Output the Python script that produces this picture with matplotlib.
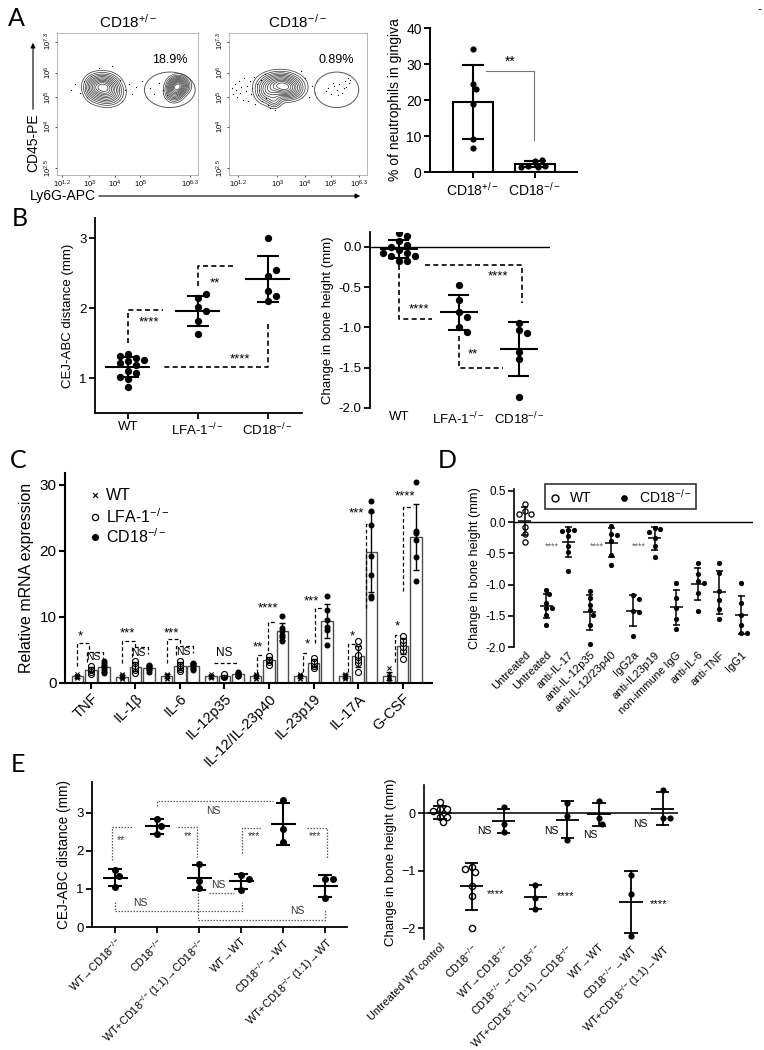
import numpy as np
import matplotlib
matplotlib.use("Agg")
import matplotlib.pyplot as plt
from matplotlib.patches import Ellipse, FancyArrowPatch
from matplotlib.lines import Line2D

plt.rcParams['font.family'] = ['Liberation Sans', 'DejaVu Sans']
plt.rcParams['mathtext.fontset'] = 'custom'
plt.rcParams['mathtext.rm'] = 'Liberation Sans'
plt.rcParams['mathtext.it'] = 'Liberation Sans:italic'
plt.rcParams['mathtext.default'] = 'regular'

KO = "$^{-/-}$"

# ---------------- data ----------------
# A: flow plots (populations drawn as density contours, axis-fraction units)
flow_titles = ["CD18$^{+/-}$", "CD18$^{-\\,/-}$"]
flow_pct = ["18.9%", "0.89%"]
flow_xlabels = ["$10^{1.2}$", "$10^3$", "$10^4$", "$10^5$", "$10^{6.3}$"]
flow_ylabels = ["$10^{2.5}$", "$10^4$", "$10^5$", "$10^6$", "$10^{7.3}$"]
het_pops = [
    [(0.33, 0.63, 0.06, 0.045, 1.0), (0.36, 0.57, 0.06, 0.045, 0.6), (0.26, 0.61, 0.04, 0.05, 0.35)],
    [(0.86, 0.63, 0.04, 0.035, 1.0), (0.83, 0.58, 0.035, 0.035, 0.5)],
]
ko_pops = [
    [(0.37, 0.64, 0.08, 0.045, 1.0), (0.43, 0.60, 0.06, 0.04, 0.6), (0.28, 0.58, 0.05, 0.045, 0.45),
     (0.33, 0.52, 0.03, 0.03, 0.25)],
]
het_ev_x = [0.10, 0.13, 0.16, 0.19, 0.21, 0.45, 0.48, 0.51, 0.53, 0.56, 0.60, 0.66, 0.69, 0.72, 0.30, 0.39,
            0.24, 0.46, 0.75, 0.78]
het_ev_y = [0.60, 0.64, 0.58, 0.66, 0.55, 0.67, 0.60, 0.64, 0.57, 0.62, 0.66, 0.61, 0.57, 0.65, 0.75, 0.77,
            0.70, 0.52, 0.60, 0.56]
ko_ev_x = [0.02, 0.03, 0.04, 0.05, 0.06, 0.07, 0.08, 0.09, 0.10, 0.11, 0.12, 0.13, 0.14, 0.15, 0.16, 0.17,
           0.18, 0.19, 0.20, 0.21, 0.22, 0.23, 0.24, 0.25, 0.26, 0.27, 0.28, 0.30, 0.33, 0.52, 0.55, 0.58,
           0.60, 0.62, 0.64, 0.70, 0.72, 0.74, 0.76, 0.78, 0.80, 0.82, 0.84, 0.85, 0.86, 0.87, 0.88, 0.83,
           0.79, 0.75]
ko_ev_y = [0.61, 0.57, 0.64, 0.60, 0.55, 0.66, 0.58, 0.62, 0.53, 0.68, 0.59, 0.63, 0.52, 0.66, 0.57, 0.61,
           0.69, 0.50, 0.64, 0.56, 0.60, 0.67, 0.52, 0.58, 0.71, 0.54, 0.49, 0.47, 0.46, 0.73, 0.68, 0.55,
           0.63, 0.58, 0.66, 0.59, 0.61, 0.57, 0.63, 0.60, 0.64, 0.58, 0.66, 0.62, 0.68, 0.65, 0.67, 0.61,
           0.56, 0.65]

# A: neutrophils in gingiva (%)
a_groups = ["CD18$^{+/-}$", "CD18$^{-/-}$"]
a_vals = [[34.2, 24.5, 23.0, 19.0, 9.2, 6.8],
          [3.0, 1.5, 1.7, 3.3, 1.6, 1.5]]

# B
b_groups = ["WT", "LFA-1" + KO, "CD18" + KO]
b_cej = [[1.34, 1.29, 1.32, 1.26, 1.24, 1.21, 1.19, 1.10, 1.07, 0.98, 1.02, 0.87],
         [2.14, 2.20, 2.02, 1.96, 1.81, 1.63],
         [3.00, 2.46, 2.54, 2.24, 2.18, 2.10]]
b_bone = [[0.17, 0.14, 0.07, 0.03, -0.04, -0.07, -0.11, -0.11, -0.07, -0.17, -0.18, 0.0],
          [-0.47, -0.66, -0.81, -0.87, -1.00, -1.05],
          [-0.94, -1.03, -1.07, -1.30, -1.39, -1.86]]

# C: relative mRNA expression
c_genes = ["TNF", "IL-1β", "IL-6", "IL-12p35", "IL-12/IL-23p40", "IL-23p19", "IL-17A", "G-CSF"]
c_wt = [[0.7, 0.9, 1.0, 1.0, 1.1, 1.3], [0.6, 0.8, 0.9, 1.0, 1.2, 1.3], [0.6, 0.8, 1.0, 1.1, 1.2, 1.4],
        [0.7, 0.9, 1.0, 1.0, 1.1, 1.3], [0.6, 0.8, 1.0, 1.1, 1.2, 1.3], [0.6, 0.8, 1.0, 1.0, 1.2, 1.4],
        [0.6, 0.8, 0.9, 1.1, 1.2, 1.4], [0.5, 0.7, 0.9, 1.0, 1.3, 2.2]]
c_lfa = [[1.4, 1.7, 2.0, 2.1, 2.3, 2.5], [1.5, 1.9, 2.3, 2.6, 3.0, 3.3], [1.8, 2.1, 2.5, 2.8, 3.1, 3.4],
         [0.9, 1.0, 1.1, 1.2, 1.2, 1.3], [2.8, 3.2, 3.5, 3.7, 3.9, 4.1], [2.2, 2.6, 2.9, 3.1, 3.4, 3.8],
         [1.7, 3.0, 3.5, 4.0, 4.2, 5.4, 6.3], [3.7, 4.9, 5.5, 6.1, 6.5, 7.1]]
c_cd18 = [[1.5, 1.9, 2.2, 2.5, 2.8, 3.3], [1.7, 2.1, 2.3, 2.4, 2.6, 2.7], [2.0, 2.3, 2.5, 2.7, 2.9, 3.1],
          [1.0, 1.1, 1.2, 1.3, 1.5, 1.7], [6.4, 6.9, 7.2, 7.8, 8.3, 10.2], [5.8, 8.0, 8.5, 9.6, 11.1, 13.1],
          [12.9, 13.1, 16.4, 19.2, 24.0, 26.0, 27.5], [15.5, 19.1, 21.7, 22.7, 23.0, 30.5]]

# D: change in bone height (mm)
d_groups = ["Untreated", "Untreated", "anti-IL-17", "anti-IL-12p35", "anti-IL-12/23p40", "IgG2a",
            "anti-IL23p19", "non-immune IgG", "anti-IL-6", "anti-TNF", "IgG1"]
d_vals = [[0.29, 0.17, 0.13, 0.13, -0.08, -0.19, -0.32],
          [-1.08, -1.15, -1.29, -1.37, -1.37, -1.49, -1.64],
          [-0.13, -0.13, -0.15, -0.22, -0.38, -0.48, -0.78],
          [-1.11, -1.21, -1.32, -1.41, -1.48, -1.64, -1.95],
          [-0.07, -0.19, -0.21, -0.30, -0.53, -0.69],
          [-1.17, -1.23, -1.42, -1.44, -1.82],
          [-0.10, -0.11, -0.16, -0.26, -0.38, -0.56],
          [-0.98, -1.22, -1.37, -1.55, -1.71],
          [-0.66, -0.83, -0.94, -0.97, -1.13, -1.42],
          [-0.66, -0.81, -1.10, -1.24, -1.39, -1.55],
          [-0.98, -1.29, -1.49, -1.64, -1.77, -1.77]]
d_wt_groups = [0]

# E
e_left_groups = ["WT→CD18" + KO, "CD18" + KO, "WT+CD18" + KO + "(1:1)→CD18" + KO, "WT→WT",
                 "CD18" + KO + "→WT", "WT+CD18" + KO + "(1:1)→WT"]
e_cej = [[1.49, 1.33, 1.05], [2.82, 2.65, 2.44], [1.65, 1.21, 1.01],
         [1.36, 1.27, 0.98], [3.32, 2.56, 2.24], [1.25, 1.25, 0.75]]
e_right_groups = ["Untreated WT control", "CD18" + KO, "WT→CD18" + KO, "CD18" + KO + "→CD18" + KO,
                  "WT+CD18" + KO + "(1:1)→CD18" + KO, "WT→WT", "CD18" + KO + "→WT",
                  "WT+CD18" + KO + "(1:1)→WT"]
e_bone = [[0.19, 0.07, 0.07, 0.04, -0.07, -0.07, -0.16],
          [-0.93, -1.03, -0.97, -1.26, -1.44, -2.00],
          [0.10, -0.19, -0.32], [-1.25, -1.47, -1.66], [0.17, -0.05, -0.46],
          [0.21, -0.09, -0.19], [-1.08, -1.41, -2.13], [0.41, -0.09, -0.09]]
e_open_groups = [0, 1]

# ---------------- figure ----------------
W, H = 764, 1050
fig = plt.figure(figsize=(W / 100, H / 100), dpi=100)


def px_ax(x0, y0, x1, y1):
    return fig.add_axes([x0 / W, 1 - y1 / H, (x1 - x0) / W, (y1 - y0) / H])


def fx(x):
    return x / W


def fy(y):
    return 1 - y / H


def style(ax, lw=1.3, fs=9.5, bottom=True):
    ax.spines['top'].set_visible(False)
    ax.spines['right'].set_visible(False)
    ax.spines['left'].set_linewidth(lw)
    ax.spines['bottom'].set_linewidth(lw)
    ax.tick_params(labelsize=fs, width=lw, length=4, pad=2)
    if not bottom:
        ax.spines['bottom'].set_visible(False)
        ax.tick_params(axis='x', length=0)


def swarm(ax, x0, vals, diam, maxw=None):
    """x positions so that dots of diameter diam (px) do not overlap"""
    vals = np.asarray(vals, float)
    pts = ax.transData.transform(np.column_stack([np.full(len(vals), x0), vals]))
    placed, out = [], []
    step = diam * 0.55
    for px, py in pts:
        best = None
        for k in range(0, 14):
            for s in ([0] if k == 0 else [1, -1]):
                cx = px + s * k * step
                if maxw is not None and abs(cx - px) > maxw:
                    continue
                if all((cx - qx) ** 2 + (py - qy) ** 2 >= (diam * 0.95) ** 2 for qx, qy in placed):
                    best = cx
                    break
            if best is not None:
                break
        if best is None:
            best = px
        placed.append((best, py))
        out.append(best)
    return ax.transData.inverted().transform(np.column_stack([out, pts[:, 1]]))[:, 0]


def dots(ax, x0, vals, diam, open_=False, maxw=None, marker='o', lw=0.9, z=5):
    xs = swarm(ax, x0, vals, diam, maxw)
    s = (diam * 0.72) ** 2
    if marker == 'x':
        ax.scatter(xs, vals, s=s * 0.7, marker='x', color='k', linewidths=0.7, zorder=z)
    elif open_:
        ax.scatter(xs, vals, s=s, facecolor='white', edgecolor='k', linewidths=lw, zorder=z)
    else:
        ax.scatter(xs, vals, s=s, color='k', linewidths=0, zorder=z)


def mean_sd(ax, x, vals, mw, cw, lw=1.5):
    m, sd = np.mean(vals), np.std(vals, ddof=1)
    ax.plot([x - mw / 2, x + mw / 2], [m, m], color='k', lw=lw, zorder=6, solid_capstyle='butt')
    ax.plot([x, x], [m - sd, m + sd], color='k', lw=lw, zorder=6)
    for yy in (m - sd, m + sd):
        ax.plot([x - cw / 2, x + cw / 2], [yy, yy], color='k', lw=lw, zorder=6, solid_capstyle='butt')


def bracket(ax, pts, txt=None, tpos=None, ls=(0, (3, 2)), lw=1.0, color='k', fs=9.5, tcolor='k'):
    xs, ys = zip(*pts)
    ax.plot(xs, ys, color=color, lw=lw, linestyle=ls, zorder=3)
    if txt:
        ax.text(tpos[0], tpos[1], txt, ha='center', va='center', fontsize=fs, color=tcolor, zorder=7)


def letter(x, y, s):
    fig.text(fx(x), fy(y), s, fontsize=18, family=['Lato', 'DejaVu Sans'], ha='center', va='center')


# ---------- A: flow plots ----------
flow_levels = np.array([0.05, 0.1, 0.16, 0.23, 0.31, 0.4, 0.5, 0.6, 0.7, 0.8, 0.9])
gx, gy = np.meshgrid(np.linspace(0, 1, 300), np.linspace(0, 1, 300))
flow_specs = [
    (px_ax(57, 33, 198, 175), het_pops, het_ev_x, het_ev_y, (0.80, 0.60, 0.36, 0.25),
     [0.035, 0.23, 0.41, 0.59, 0.94]),
    (px_ax(229, 33, 367, 175), ko_pops, ko_ev_x, ko_ev_y, (0.78, 0.60, 0.32, 0.25),
     [0.065, 0.35, 0.55, 0.74, 0.94]),
]
for k, (ax, pops, ex, ey, gate, xtk) in enumerate(flow_specs):
    for pop in pops:
        Z = np.zeros_like(gx)
        for cx, cy, sx, sy, w in pop:
            Z += w * np.exp(-0.5 * (((gx - cx) / sx) ** 2 + ((gy - cy) / sy) ** 2))
        ax.contour(gx, gy, Z, levels=Z.max() * flow_levels, colors='0.2', linewidths=0.5)
    n = min(len(ex), len(ey))
    ax.scatter(ex[:n], ey[:n], s=0.8, color='k', linewidths=0)
    ax.add_patch(Ellipse(gate[:2], gate[2], gate[3], fill=False, ec='0.35', lw=0.7))
    ax.text(gate[0], 0.81, flow_pct[k], ha='center', va='center', fontsize=9)
    ax.set_xlim(0, 1)
    ax.set_ylim(0, 1)
    ax.set_xticks(xtk)
    ax.set_xticklabels(flow_xlabels, fontsize=5.5)
    ax.set_yticks([0.05, 0.34, 0.55, 0.72, 0.94])
    ax.set_yticklabels(flow_ylabels, fontsize=5.5, rotation=90, va='center')
    ax.tick_params(length=1.5, width=0.5, pad=1)
    for s in ax.spines.values():
        s.set_linewidth(0.5)
        s.set_color('0.6')
    ax.set_title(flow_titles[k], fontsize=11, pad=4)

fig.text(fx(33), fy(143), "CD45-PE", rotation=90, ha='center', va='center', fontsize=10)
fig.text(fx(30), fy(196), "Ly6G-APC", ha='left', va='center', fontsize=10)
fig.add_artist(FancyArrowPatch((fx(33), fy(112)), (fx(33), fy(40)), transform=fig.transFigure,
                               arrowstyle='-|>', mutation_scale=7, lw=0.8, color='k'))
fig.add_artist(FancyArrowPatch((fx(96), fy(196)), (fx(363), fy(196)), transform=fig.transFigure,
                               arrowstyle='-|>', mutation_scale=7, lw=0.8, color='k'))

# ---------- A: bar ----------
ax = px_ax(430, 28, 577, 172)
style(ax, lw=1.4, fs=10)
ax.set_xlim(-0.69, 1.68)
ax.set_ylim(0, 40)
means = [np.mean(v) for v in a_vals]
ax.bar(range(2), means, width=0.65, color='white', edgecolor='k', lw=1.5, zorder=2)
for i, v in enumerate(a_vals):
    sd = np.std(v, ddof=1)
    ax.plot([i, i], [means[i] - sd, means[i] + sd], color='k', lw=1.5, zorder=4)
    for yy in (means[i] - sd, means[i] + sd):
        ax.plot([i - 0.16, i + 0.16], [yy, yy], color='k', lw=1.5, zorder=4)
    dots(ax, i, v, 6.2)
ax.plot([0.21, 0.98, 0.98], [28, 28, 9], color='0.45', lw=0.8)
ax.text(0.6, 30.5, "**", ha='center', va='center', fontsize=10)
ax.set_yticks([0, 10, 20, 30, 40])
ax.set_xticks([0, 1])
ax.set_xticklabels(a_groups, fontsize=10)
ax.set_ylabel("% of neutrophils in gingiva", fontsize=10, labelpad=3)
fig.text(fx(760), fy(10), "-", fontsize=9, ha='center', va='center')

# ---------- B left ----------
ax = px_ax(95, 218, 302, 413)
style(ax, lw=1.3, fs=9.5)
ax.set_xlim(-0.47, 2.49)
ax.set_ylim(0.5, 3.29)
for i, v in enumerate(b_cej):
    dots(ax, i, v, 7.3)
    mean_sd(ax, i, v, 0.64, 0.32, lw=1.5)
bracket(ax, [(0, 1.5), (0, 1.98), (0.5, 1.98)], "****", (0.3, 1.79), lw=1.2)
bracket(ax, [(1, 2.32), (1, 2.6), (1.5, 2.6)], "**", (1.24, 2.36), lw=1.2)
bracket(ax, [(2, 1.77), (2, 1.16), (0.52, 1.16)], "****", (1.6, 1.27), lw=1.2)
ax.set_yticks([1, 2, 3])
ax.set_xticks(range(3))
ax.set_xticklabels(b_groups, fontsize=9.5)
ax.set_ylabel("CEJ-ABC distance (mm)", fontsize=9.5, labelpad=4)

# ---------- B right ----------
ax = px_ax(370, 232, 550, 408)
style(ax, lw=1.3, fs=9.5, bottom=False)
ax.set_xlim(-0.48, 2.52)
ax.set_ylim(-2.0, 0.186)
ax.axhline(0, color='k', lw=1.0, zorder=2)
for i, v in enumerate(b_bone):
    dots(ax, i, v, 7.3)
    mean_sd(ax, i, v, 0.64, 0.35, lw=1.5)
bracket(ax, [(0, -0.23), (0, -0.89), (0.55, -0.89)], "****", (0.33, -0.78), lw=1.2)
bracket(ax, [(0.43, -0.23), (2.05, -0.23), (2.05, -0.69)], "****", (1.65, -0.37), lw=1.2)
bracket(ax, [(1, -1.11), (1, -1.50), (1.73, -1.50)], "**", (1.23, -1.33), lw=1.2)
ax.set_yticks([0, -0.5, -1.0, -1.5, -2.0])
ax.set_yticklabels(["0.0", "-0.5", "-1.0", "-1.5", "-2.0"])
ax.set_xticks(range(3))
ax.set_xticklabels(b_groups, fontsize=9.5)
ax.set_ylabel("Change in bone height (mm)", fontsize=9.5, labelpad=3)

# ---------- C ----------
ax = px_ax(65, 473, 432, 683)
style(ax, lw=1.5, fs=11)
ax.set_xlim(-0.58, 7.66)
ax.set_ylim(0, 31.8)
xc = np.arange(len(c_genes))
off, bw = 0.3, 0.26
for vals_list, o, kind in [(c_wt, -off, 'x'), (c_lfa, 0, 'open'), (c_cd18, off, 'filled')]:
    m = [np.mean(v) for v in vals_list]
    sd = [np.std(v, ddof=1) for v in vals_list]
    ax.bar(xc + o, m, width=bw, color='white', edgecolor='0.3', lw=1.0, zorder=2)
    ax.errorbar(xc + o, m, yerr=sd, fmt='none', ecolor='k', elinewidth=1.0, capsize=2.5,
                capthick=1.0, zorder=6)
    for i, v in enumerate(vals_list):
        if kind == 'x':
            dots(ax, i + o, v, 5.0, maxw=4, marker='x')
        else:
            dots(ax, i + o, v, 6.0, open_=(kind == 'open'), maxw=4, lw=0.8)
cls = (0, (3, 2))
bracket(ax, [(-0.3, 2.6), (-0.3, 6.1), (-0.03, 6.1), (-0.03, 4.7)], "*", (-0.24, 7.0), ls=cls, lw=0.9)
bracket(ax, [(-0.08, 3.2), (-0.08, 4.7), (0.27, 4.7), (0.27, 3.7)], "NS", (0.06, 3.9), ls=cls, lw=0.9, fs=7.5)
bracket(ax, [(0.71, 3.0), (0.71, 6.4), (1.0, 6.4), (1.0, 5.5)], "***", (0.82, 7.5), ls=cls, lw=0.9)
bracket(ax, [(0.92, 4.0), (0.92, 5.5), (1.29, 5.5), (1.29, 4.4)], "NS", (1.07, 4.6), ls=cls, lw=0.9, fs=7.5)
bracket(ax, [(1.71, 3.1), (1.71, 6.6), (2.0, 6.6), (2.0, 5.7)], "***", (1.82, 7.5), ls=cls, lw=0.9)
bracket(ax, [(1.92, 4.2), (1.92, 5.6), (2.29, 5.6), (2.29, 4.6)], "NS", (2.07, 4.7), ls=cls, lw=0.9, fs=7.5)
bracket(ax, [(2.76, 3.1), (3.29, 3.1)], "NS", (3.0, 4.6), ls=cls, lw=0.9, fs=8.5)
bracket(ax, [(3.72, 1.5), (3.72, 4.2), (3.86, 4.2)], "**", (3.75, 5.4), ls=cls, lw=0.9)
bracket(ax, [(3.97, 4.0), (3.97, 9.3), (4.16, 9.3)], "****", (3.98, 11.3), ls=cls, lw=0.9)
bracket(ax, [(4.77, 1.7), (4.77, 4.5), (4.9, 4.5)], "*", (4.87, 5.8), ls=cls, lw=0.9)
bracket(ax, [(5.03, 6.0), (5.03, 11.4), (5.22, 11.4)], "***", (4.96, 12.4), ls=cls, lw=0.9)
bracket(ax, [(5.77, 1.7), (5.77, 5.9), (5.97, 5.9)], "*", (5.86, 7.1), ls=cls, lw=0.9)
bracket(ax, [(6.18, 11.4), (6.18, 24.1), (6.38, 24.1)], "***", (5.96, 25.7), ls=cls, lw=0.9)
bracket(ax, [(6.82, 3.2), (6.82, 7.3), (6.94, 7.3)], "*", (6.87, 8.5), ls=cls, lw=0.9)
bracket(ax, [(7.02, 13.9), (7.02, 26.7), (7.23, 26.7)], "****", (7.06, 28.3), ls=cls, lw=0.9)
ax.set_yticks([0, 10, 20, 30])
ax.set_xticks(xc)
ax.set_xticklabels(c_genes, rotation=45, ha='right', rotation_mode='anchor', fontsize=10.5)
ax.set_ylabel("Relative mRNA expression", fontsize=11.5, labelpad=4)
leg_rows = [(0.895, 'x', "WT"), (0.79, 'open', "LFA-1" + KO), (0.695, 'filled', "CD18" + KO)]
for yy, kind, lab in leg_rows:
    if kind == 'x':
        ax.scatter([0.082], [yy], transform=ax.transAxes, marker='x', s=12, color='k', linewidths=0.8)
    elif kind == 'open':
        ax.scatter([0.082], [yy], transform=ax.transAxes, s=20, facecolor='white', edgecolor='k',
                   linewidths=0.9)
    else:
        ax.scatter([0.082], [yy], transform=ax.transAxes, s=26, color='k', linewidths=0)
    ax.text(0.112, yy, lab, transform=ax.transAxes, ha='left', va='center', fontsize=11.5)

# ---------- D ----------
ax = px_ax(514, 489, 753, 647)
style(ax, lw=1.2, fs=8.5, bottom=False)
ax.set_xlim(-0.5, 10.55)
ax.set_ylim(-2.0, 0.53)
ax.axhline(0, color='k', lw=1.0, zorder=2)
for i, v in enumerate(d_vals):
    dots(ax, i, v, 5.2, open_=(i in d_wt_groups), lw=0.9)
    mean_sd(ax, i, v, 0.6, 0.33, lw=1.1)
for xx in (1.25, 3.33, 5.28):
    ax.text(xx, -0.38, "****", ha='center', va='center', fontsize=6.5, color='0.35')
ax.set_yticks([0.5, 0, -0.5, -1.0, -1.5, -2.0])
ax.set_yticklabels(["0.5", "0.0", "-0.5", "-1.0", "-1.5", "-2.0"])
ax.set_xticks(range(len(d_groups)))
ax.set_xticklabels(d_groups, rotation=45, ha='right', rotation_mode='anchor', fontsize=8)
ax.set_ylabel("Change in bone height (mm)", fontsize=9.2, labelpad=3)
handles = [Line2D([], [], marker='o', ls='none', mfc='white', mec='k', ms=5, mew=1.0),
           Line2D([], [], marker='o', ls='none', color='k', ms=3.8)]
leg = ax.legend(handles, ["WT", "CD18" + KO], ncol=2, loc='upper center', bbox_to_anchor=(0.444, 1.075),
                frameon=True, fancybox=False, edgecolor='k', fontsize=10, handletextpad=0.6,
                columnspacing=1.8, borderpad=0.25, handlelength=1.0)
leg.get_frame().set_linewidth(1.2)

# ---------- E left ----------
ax = px_ax(92, 782, 347, 927)
style(ax, lw=1.3, fs=9.5)
ax.set_xlim(-0.55, 5.52)
ax.set_ylim(0, 3.8)
for i, v in enumerate(e_cej):
    dots(ax, i, v, 7.0)
    mean_sd(ax, i, v, 0.6, 0.32, lw=1.5)
dls = (0, (1.2, 1.2))
ek = dict(ls=dls, lw=0.9, color='0.35', fs=7.5, tcolor='0.2')
bracket(ax, [(-0.07, 1.75), (-0.07, 2.61), (0.4, 2.61)], "**", (0.14, 2.28), **ek)
bracket(ax, [(1.5, 2.61), (1.95, 2.61), (1.95, 1.84)], "**", (1.74, 2.37), **ek)
bracket(ax, [(1.0, 3.16), (1.0, 3.29), (3.76, 3.29)], "NS", (2.33, 3.03), **ek)
bracket(ax, [(3.02, 1.93), (3.02, 2.59), (3.48, 2.59)], "***", (3.3, 2.39), **ek)
bracket(ax, [(4.57, 2.59), (5.05, 2.59), (5.05, 1.82)], "***", (4.76, 2.39), **ek)
bracket(ax, [(2.24, 0.88), (2.82, 0.88)], "NS", (2.45, 1.1), **ek)
bracket(ax, [(0, 0.66), (0, 0.41), (3.02, 0.41), (3.02, 0.66)], "NS", (0.6, 0.62), **ek)
bracket(ax, [(1.98, 0.96), (1.98, 0.18), (5.0, 0.18), (5.0, 0.44)], "NS", (4.33, 0.41), **ek)
ax.set_yticks([0, 1, 2, 3])
ax.set_xticks(range(len(e_left_groups)))
ax.set_xticklabels(e_left_groups, rotation=45, ha='right', rotation_mode='anchor', fontsize=7.8)
ax.set_ylabel("CEJ-ABC distance (mm)", fontsize=9.8, labelpad=4)

# ---------- E right ----------
ax = px_ax(424, 785, 678, 939)
style(ax, lw=1.2, fs=9, bottom=False)
ax.set_xlim(-0.5, 7.48)
ax.set_ylim(-2.19, 0.49)
ax.axhline(0, color='k', lw=1.1, zorder=2)
for i, v in enumerate(e_bone):
    dots(ax, i, v, 6.2, open_=(i in e_open_groups), lw=1.0)
    mean_sd(ax, i, v, 0.73, 0.42, lw=1.3)
for xx, yy in [(1.38, -0.31), (3.51, -0.31), (4.72, -0.38), (6.29, -0.19)]:
    ax.text(xx, yy, "NS", ha='center', va='center', fontsize=7.5)
for xx, yy in [(1.75, -1.40), (3.94, -1.45), (6.88, -1.59)]:
    ax.text(xx, yy, "****", ha='center', va='center', fontsize=8)
ax.set_yticks([0, -1, -2])
ax.set_xticks(range(len(e_right_groups)))
ax.set_xticklabels(e_right_groups, rotation=45, ha='right', rotation_mode='anchor', fontsize=7.8)
ax.set_ylabel("Change in bone height (mm)", fontsize=9.5, labelpad=3)

# panel letters
letter(16, 18, "A")
letter(20, 218, "B")
letter(18, 460, "C")
letter(447, 460, "D")
letter(18, 765, "E")

fig.savefig("out.png", dpi=100)
